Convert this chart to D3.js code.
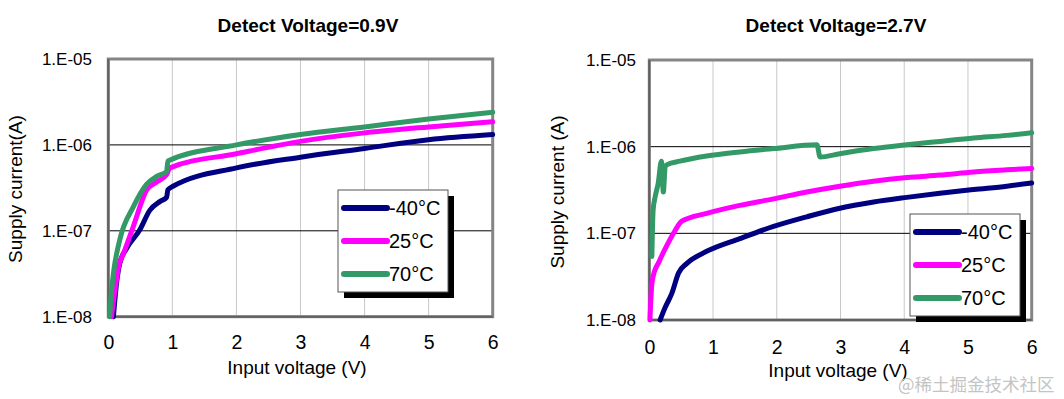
<!DOCTYPE html>
<html>
<head>
<meta charset="utf-8">
<script src="https://cdn.jsdelivr.net/npm/d3@7"></script>
<style>
  body { margin: 0; background: #fff; }
  svg { display: block; font-family: "Liberation Sans", Arial, sans-serif; }
</style>
</head>
<body>
<script>
// values: [input voltage (V), supply current (A)]
var voltTicks = [0, 1, 2, 3, 4, 5, 6];
var currentTicks = [1e-8, 1e-7, 1e-6, 1e-5];
var seriesNames = ["-40°C", "25°C", "70°C"];
var chartTitles = ["Detect Voltage=0.9V", "Detect Voltage=2.7V"];
var yTitles = ["Supply current(A)", "Supply current (A)"];

var det09_m40 = [[0.08,1.0e-8],[0.13,2.5e-8],[0.18,4.2e-8],[0.29,6.3e-8],[0.49,1.02e-7],[0.65,1.74e-7],
  [0.81,2.2e-7],[0.91,2.45e-7],[0.93,3.0e-7],[1.01,3.3e-7],[2,5.4e-7],[3,7.2e-7],[4,9.1e-7],[5,1.15e-6],[6,1.32e-6]];
var det09_25 = [[0.05,1.0e-8],[0.11,2.2e-8],[0.16,3.8e-8],[0.24,5.5e-8],[0.39,1.12e-7],[0.6,3.0e-7],
  [0.755,3.7e-7],[0.91,4.5e-7],[0.96,5.4e-7],[2,7.9e-7],[3,1.1e-6],[4,1.38e-6],[5,1.62e-6],[6,1.86e-6]];
var det09_70 = [[0.02,1.0e-8],[0.05,2.0e-8],[0.08,3.2e-8],[0.18,7.9e-8],[0.39,1.9e-7],[0.6,3.5e-7],
  [0.755,4.3e-7],[0.91,4.9e-7],[0.93,6.5e-7],[2,1.0e-6],[3,1.32e-6],[4,1.62e-6],[5,2.0e-6],[6,2.4e-6]];

var det27_m40 = [[0.17,1.0e-8],[0.25,1.4e-8],[0.35,2.0e-8],[0.46,3.5e-8],[0.59,4.5e-8],[0.9,6.2e-8],
  [1.42,8.7e-8],[1.95,1.2e-7],[2.47,1.55e-7],[2.99,1.95e-7],[3.52,2.3e-7],[4.04,2.6e-7],[4.56,2.9e-7],
  [5.09,3.2e-7],[5.61,3.5e-7],[6.0,3.8e-7]];
var det27_25 = [[0.01,1.0e-8],[0.04,2.6e-8],[0.09,3.8e-8],[0.14,4.5e-8],[0.19,5.4e-8],[0.27,7.1e-8],
  [0.38,1.0e-7],[0.51,1.38e-7],[0.9,1.7e-7],[1.42,2.1e-7],[1.95,2.5e-7],[2.47,3.0e-7],[2.99,3.5e-7],
  [3.52,4.0e-7],[4.04,4.4e-7],[4.56,4.7e-7],[5.09,5.1e-7],[5.61,5.4e-7],[6.0,5.6e-7]];
var det27_70 = [[0.04,5.4e-8],[0.06,1.86e-7],[0.09,2.6e-7],[0.14,3.8e-7],[0.19,6.8e-7],[0.22,3.0e-7],
  [0.25,5.9e-7],[0.28,6.2e-7],[0.48,6.8e-7],[0.9,7.8e-7],[1.42,8.7e-7],[1.95,9.5e-7],[2.63,1.05e-6],
  [2.68,7.6e-7],[2.99,8.3e-7],[3.52,9.5e-7],[4.04,1.05e-6],[4.56,1.15e-6],[5.09,1.26e-6],[5.61,1.35e-6],[6.0,1.45e-6]];

var colors = ["#000080", "#ff00ff", "#339966"];

var svg = d3.select("body").append("svg")
    .attr("width", 1064)
    .attr("height", 399);

// plot frames
var frames = [
  { x0: 108.3, x1: 492.7, y0: 59, y1: 316.7, titleX: 308, yLabRight: 92, yTitleX: 15, yTitleY: 189,
    xTickY: 342, xTitleX: 297, xTitleY: 367, legX: 338, legY: 190 },
  { x0: 649.3, x1: 1031.7, y0: 60, y1: 320, titleX: 836, yLabRight: 636, yTitleX: 557, yTitleY: 192,
    xTickY: 347, xTitleX: 838, xTitleY: 370, legX: 910, legY: 214 }
];

function drawChart(f, title, yTitle, series) {
  var x = d3.scaleLinear().domain([0, 6]).range([f.x0, f.x1]);
  var y = d3.scaleLog().domain([1e-8, 1e-5]).range([f.y1, f.y0]);
  var g = svg.append("g");

  g.append("text")
      .attr("x", f.titleX).attr("y", 25)
      .attr("text-anchor", "middle").attr("dominant-baseline", "central")
      .style("font-weight", "bold").style("font-size", "19px")
      .text(title);

  // vertical grid
  g.selectAll(".vg").data(voltTicks.slice(1, -1)).enter().append("line")
      .attr("x1", function(d) { return x(d); }).attr("x2", function(d) { return x(d); })
      .attr("y1", f.y0).attr("y2", f.y1)
      .attr("stroke", "#c8c8c8").attr("stroke-width", 1);

  // horizontal grid
  g.selectAll(".hg").data(currentTicks.slice(1, -1)).enter().append("line")
      .attr("x1", f.x0).attr("x2", f.x1)
      .attr("y1", function(d) { return y(d); }).attr("y2", function(d) { return y(d); })
      .attr("stroke", "#000").attr("stroke-width", 1);

  // frame
  g.append("rect")
      .attr("x", f.x0).attr("y", f.y0)
      .attr("width", f.x1 - f.x0).attr("height", f.y1 - f.y0)
      .attr("fill", "none").attr("stroke", "#858585").attr("stroke-width", 3);
  g.append("path")
      .attr("d", "M" + f.x0 + "," + f.y0 + "V" + f.y1 + "H" + f.x1)
      .attr("fill", "none").attr("stroke", "#606060").attr("stroke-width", 2);

  var line = d3.line()
      .curve(d3.curveMonotoneX)
      .x(function(d) { return x(d[0]); })
      .y(function(d) { return y(d[1]); });

  series.forEach(function(s, i) {
    g.append("path")
        .datum(s)
        .attr("fill", "none")
        .attr("stroke", colors[i])
        .attr("stroke-width", 5)
        .attr("stroke-linejoin", "round")
        .attr("stroke-linecap", "round")
        .attr("d", line);
  });

  // y axis labels
  var yAxis = d3.axisLeft(y)
      .tickValues(currentTicks)
      .tickSize(0)
      .tickPadding(0)
      .tickFormat(function(d) { return "1.E-0" + Math.round(-Math.log10(d)); });
  var ya = g.append("g")
      .attr("transform", "translate(" + f.yLabRight + ",0)")
      .call(yAxis);
  ya.select(".domain").remove();
  ya.selectAll("text")
      .style("font-family", "'Liberation Sans', Arial, sans-serif")
      .style("font-size", "17px").attr("fill", "#000");

  // x axis labels
  var xAxis = d3.axisBottom(x).tickValues(voltTicks).tickFormat(d3.format("d")).tickSize(0).tickPadding(0);
  var xa = g.append("g")
      .attr("transform", "translate(0," + f.xTickY + ")")
      .call(xAxis);
  xa.select(".domain").remove();
  xa.selectAll("text")
      .attr("dy", null)
      .attr("dominant-baseline", "central")
      .style("font-family", "'Liberation Sans', Arial, sans-serif")
      .style("font-size", "19.5px").attr("fill", "#000");

  g.append("text")
      .attr("x", f.xTitleX).attr("y", f.xTitleY)
      .attr("text-anchor", "middle").attr("dominant-baseline", "central")
      .style("font-size", "19px")
      .text("Input voltage (V)");

  g.append("text")
      .attr("transform", "translate(" + f.yTitleX + "," + f.yTitleY + ") rotate(-90)")
      .attr("text-anchor", "middle").attr("dominant-baseline", "central")
      .style("font-size", "19px")
      .text(yTitle);

  // legend with drop shadow
  var leg = g.append("g").attr("transform", "translate(" + f.legX + "," + f.legY + ")");
  leg.append("rect").attr("x", 6).attr("y", 6).attr("width", 110).attr("height", 102).attr("fill", "#000");
  leg.append("rect").attr("width", 110).attr("height", 102)
      .attr("fill", "#fff").attr("stroke", "#555").attr("stroke-width", 1);
  var rowY = d3.scalePoint().domain(seriesNames).range([18, 84]);
  seriesNames.forEach(function(name, i) {
    leg.append("line")
        .attr("x1", 6).attr("x2", 49)
        .attr("y1", rowY(name)).attr("y2", rowY(name))
        .attr("stroke", colors[i]).attr("stroke-width", 6)
        .attr("stroke-linecap", "round");
    leg.append("text")
        .attr("x", 51).attr("y", rowY(name))
        .attr("dominant-baseline", "central")
        .style("font-size", "20px")
        .text(name);
  });
}

drawChart(frames[0], chartTitles[0], yTitles[0], [det09_m40, det09_25, det09_70]);
drawChart(frames[1], chartTitles[1], yTitles[1], [det27_m40, det27_25, det27_70]);

svg.append("text")
    .attr("x", 898).attr("y", 383)
    .attr("dominant-baseline", "central")
    .style("font-family", "'Noto Sans CJK SC', sans-serif")
    .style("font-size", "17.5px")
    .attr("fill", "#c4c4c4")
    .text("@稀土掘金技术社区");
</script>
</body>
</html>
